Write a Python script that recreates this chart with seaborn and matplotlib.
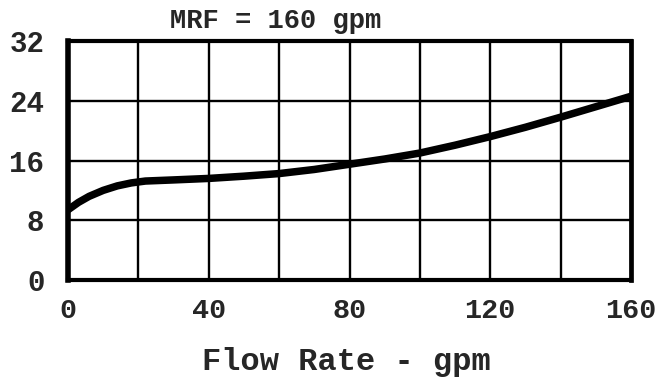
import matplotlib
matplotlib.use("Agg")
import matplotlib.pyplot as plt
import seaborn as sns
import pandas as pd
from matplotlib.ticker import MultipleLocator, FixedLocator

# Head curve readings for MRF = 160 gpm
flow_gpm = [0, 3, 6, 10, 14, 18, 22, 30, 40, 50, 60, 70, 80, 90, 100,
            110, 120, 130, 140, 150, 160]
head_val = [9.4, 10.4, 11.2, 12.0, 12.6, 13.0, 13.25, 13.4, 13.6, 13.9, 14.25, 14.8,
            15.5, 16.2, 17.0, 18.05, 19.2, 20.45, 21.8, 23.2, 24.6]

x_ticks = [0, 40, 80, 120, 160]
y_ticks = [0, 8, 16, 24, 32]
title_text = "MRF = 160 gpm"
x_label = "Flow Rate - gpm"

df = pd.DataFrame({"flow": flow_gpm, "head": head_val})

sns.set_theme(style="white")
plt.rcParams["font.family"] = ["Liberation Mono", "DejaVu Sans Mono"]
plt.rcParams["font.weight"] = "bold"

fig = plt.figure(figsize=(6.69, 3.87), dpi=100)
ax = fig.add_axes([68 / 669, 1 - 280 / 387, (631 - 68) / 669, (280 - 41) / 387])

sns.lineplot(data=df, x="flow", y="head", ax=ax, color="black", linewidth=5.4,
             solid_capstyle="butt", solid_joinstyle="round")

ax.set_xlim(0, 160)
ax.set_ylim(0, 32)
ax.xaxis.set_major_locator(FixedLocator(x_ticks))
ax.xaxis.set_minor_locator(MultipleLocator(20))
ax.yaxis.set_major_locator(FixedLocator(y_ticks))
ax.grid(True, which="both", axis="x", color="black", linewidth=1.7)
ax.grid(True, which="major", axis="y", color="black", linewidth=1.7)
ax.set_axisbelow(True)

ax.tick_params(axis="both", which="both", length=0)
ax.tick_params(axis="x", labelsize=20.5, pad=13)
ax.tick_params(axis="y", labelsize=21, pad=17)
for lab in ax.get_xticklabels() + ax.get_yticklabels():
    lab.set_fontweight("bold")

for side, lw in [("left", 4.0), ("bottom", 3.0), ("right", 3.4), ("top", 3.0)]:
    ax.spines[side].set_visible(True)
    ax.spines[side].set_color("black")
    ax.spines[side].set_linewidth(lw)

ax.set_ylabel("")
ax.set_xlabel(x_label, fontsize=23, fontweight="bold")
ax.xaxis.set_label_coords(0.495, -0.343)
ax.xaxis.label.set_verticalalignment("center")

ax.set_title(title_text, fontsize=19.5, fontweight="bold", x=0.369, y=1.054, pad=0)

fig.savefig("out.png", dpi=100, facecolor="white")
